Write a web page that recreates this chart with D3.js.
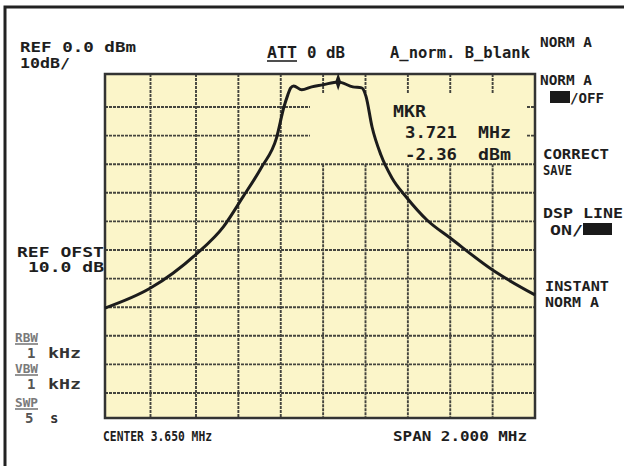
<!DOCTYPE html>
<html>
<head>
<meta charset="utf-8">
<script src="https://cdn.jsdelivr.net/npm/d3@7"></script>
<style>
  body { margin: 0; background: #fff; }
  text { font-family: "DejaVu Sans Mono", monospace; font-weight: bold; fill: #1e1e1e; }
</style>
</head>
<body>
<div id="chart"></div>
<script>
// graticule divisions: frequency (MHz) and level (dBm, 10 dB/div)
const freqTicks = [2.65, 2.85, 3.05, 3.25, 3.45, 3.65, 3.85, 4.05, 4.25, 4.45, 4.65];
const levelTicks = [0, -10, -20, -30, -40, -50, -60, -70, -80, -90, -100, -110, -120];

// trace A
const traceFreq = [2.65, 2.85, 3.05, 3.18, 3.27, 3.36, 3.43, 3.465, 3.483, 3.497, 3.511, 3.549, 3.596,
                   3.648, 3.721, 3.79, 3.832, 3.852, 3.881, 3.923, 3.975, 4.046, 4.14, 4.25, 4.45, 4.65];
const traceLevel = [-80.3, -73.3, -61.5, -51.8, -41.6, -31.0, -20.8, -10.0, -6.4, -4.2, -3.6, -4.8, -3.9,
                    -3.3, -2.4, -3.9, -4.2, -6.7, -17.0, -26.8, -34.8, -41.8, -49.5, -55.8, -67.0, -75.7];

// marker readout
const markerFreq = 3.721;
const markerLevel = -2.36;

// screen annotations
const headerTexts = ["REF 0.0 dBm", "10dB/", "ATT", "0 dB", "A_norm. B_blank"];
const menuTexts = ["NORM A", "NORM A", "/OFF", "CORRECT", "SAVE", "DSP LINE", "ON/", "INSTANT", "NORM A"];
const sideTexts = ["REF OFST", "10.0 dB"];
const bwLabels = ["RBW", "VBW", "SWP"];
const bwValues = ["1", "1", "5"];
const bwUnits = ["kHz", "kHz", "s"];
const markerTexts = ["MKR", "3.721", "MHz", "-2.36", "dBm"];
const footerTexts = ["CENTER 3.650 MHz", "SPAN 2.000 MHz"];

let svg = d3.select("#chart")
  .append("svg")
    .attr("width", 624)
    .attr("height", 466);

// outer frame of the printout (only top and left edges fall inside the picture)
svg.append("rect")
    .attr("x", 5).attr("y", 7)
    .attr("width", 640).attr("height", 480)
    .attr("fill", "none")
    .attr("stroke", "#222")
    .attr("stroke-width", 3);

// scales (the printed graticule is slightly uneven, so a few anchor points)
let x = d3.scaleLinear().domain([2.65, 3.05, 4.65]).range([105, 196, 535]);
let y = d3.scaleLinear().domain([0, -10, -110, -120]).range([74, 107, 393, 418]);

let x0 = x(freqTicks[0]), x1 = x(freqTicks[freqTicks.length - 1]);
let y0 = y(levelTicks[0]), y1 = y(levelTicks[levelTicks.length - 1]);

svg.append("rect")
    .attr("x", x0).attr("y", y0)
    .attr("width", x1 - x0).attr("height", y1 - y0)
    .attr("fill", "#fbf5c9");

// grid: the area behind the marker readout is blanked, only edge ticks remain
let blankX = 308, blankY = y(-30);
let segs = [];
freqTicks.slice(1, -1).forEach(function(f) {
  let xf = x(f);
  if (xf > blankX) {
    segs.push([xf, y0, xf, y0 + 20]);
    segs.push([xf, blankY, xf, y1]);
  } else {
    segs.push([xf, y0, xf, y1]);
  }
});
levelTicks.slice(1, -1).forEach(function(l) {
  let yl = y(l);
  if (yl < blankY - 1) {
    segs.push([x0, yl, blankX + 2, yl]);
    segs.push([x1 - 8, yl, x1, yl]);
  } else {
    segs.push([x0, yl, x1, yl]);
  }
});
svg.append("g")
  .selectAll("line")
  .data(segs)
  .enter().append("line")
    .attr("x1", d => d[0]).attr("y1", d => d[1])
    .attr("x2", d => d[2]).attr("y2", d => d[3])
    .attr("stroke", "#44443e")
    .attr("stroke-width", 1.9)
    .attr("stroke-dasharray", "3,1");

svg.append("rect")
    .attr("x", x0).attr("y", y0)
    .attr("width", x1 - x0).attr("height", y1 - y0)
    .attr("fill", "none")
    .attr("stroke", "#333")
    .attr("stroke-width", 2.5);

// trace
let trace = traceFreq.map((f, i) => ({f: f, l: traceLevel[i]}));
svg.append("path")
    .datum(trace)
    .attr("fill", "none")
    .attr("stroke", "#1c1c1c")
    .attr("stroke-width", 3)
    .attr("stroke-linejoin", "round")
    .attr("d", d3.line()
      .x(d => x(d.f))
      .y(d => y(d.l))
      .curve(d3.curveMonotoneX));

// marker diamond
svg.append("path")
    .attr("d", d3.symbol(d3.symbolDiamond, 45)())
    .attr("transform", "translate(" + x(markerFreq) + "," + y(markerLevel) + ") scale(0.8,1.4)")
    .attr("fill", "#1c1c1c");

// text helper
function label(t, px, py, w, size, color) {
  let el = svg.append("text")
      .attr("x", px).attr("y", py)
      .style("font-size", (size || 16) + "px")
      .text(t);
  if (w) el.attr("textLength", w).attr("lengthAdjust", "spacingAndGlyphs");
  if (color) el.style("fill", color);
  return el;
}
function underline(px, py, w, color) {
  svg.append("line")
      .attr("x1", px).attr("x2", px + w)
      .attr("y1", py).attr("y2", py)
      .attr("stroke", color || "#222")
      .attr("stroke-width", 1.6);
}

// header
label(headerTexts[0], 20, 52, 116, 14);
label(headerTexts[1], 20, 68, 50, 14);
label(headerTexts[2], 267, 58, 30, 15);
underline(267, 61, 30);
label(headerTexts[3], 307, 58, 38, 15);
label(headerTexts[4], 390, 58, 140, 15);

// soft key menu on the right
label(menuTexts[0], 540, 47, 52, 14);
label(menuTexts[1], 540, 85, 52, 14);
svg.append("rect").attr("x", 550).attr("y", 91).attr("width", 20).attr("height", 12).attr("fill", "#1a1a1a");
label(menuTexts[2], 570, 103, 34, 14);
label(menuTexts[3], 543, 159, 66, 14);
label(menuTexts[4], 543, 175, 29, 14);
label(menuTexts[5], 543, 218, 80, 14);
label(menuTexts[6], 550, 235, 33, 14);
svg.append("rect").attr("x", 583).attr("y", 223).attr("width", 29).attr("height", 12).attr("fill", "#1a1a1a");
label(menuTexts[7], 545, 291, 64, 14);
label(menuTexts[8], 545, 307, 54, 14);

// left side
label(sideTexts[0], 17, 257, 87, 14);
label(sideTexts[1], 28, 272, 76, 14);
bwLabels.forEach(function(t, i) {
  let by = [342, 373, 407][i];
  label(t, 15, by, 23, 13, "#7a7a7a");
  underline(15, by + 2, 23, "#7a7a7a");
  let vy = [358, 389, 423][i];
  label(bwValues[i], i == 2 ? 25 : 27, vy, null, 14, "#555");
  label(bwUnits[i], i == 2 ? 50 : 48, vy, i == 2 ? null : 33, 14, "#333");
});

// marker readout
label(markerTexts[0], 393, 117, 33, 16);
label(markerTexts[1], 405, 138, 52, 16);
label(markerTexts[2], 478, 138, 33, 16);
label(markerTexts[3], 405, 160, 52, 16);
label(markerTexts[4], 478, 160, 33, 16);

// footer
label(footerTexts[0], 103, 441, 109, 14);
label(footerTexts[1], 393, 441, 134, 14);
</script>
</body>
</html>
